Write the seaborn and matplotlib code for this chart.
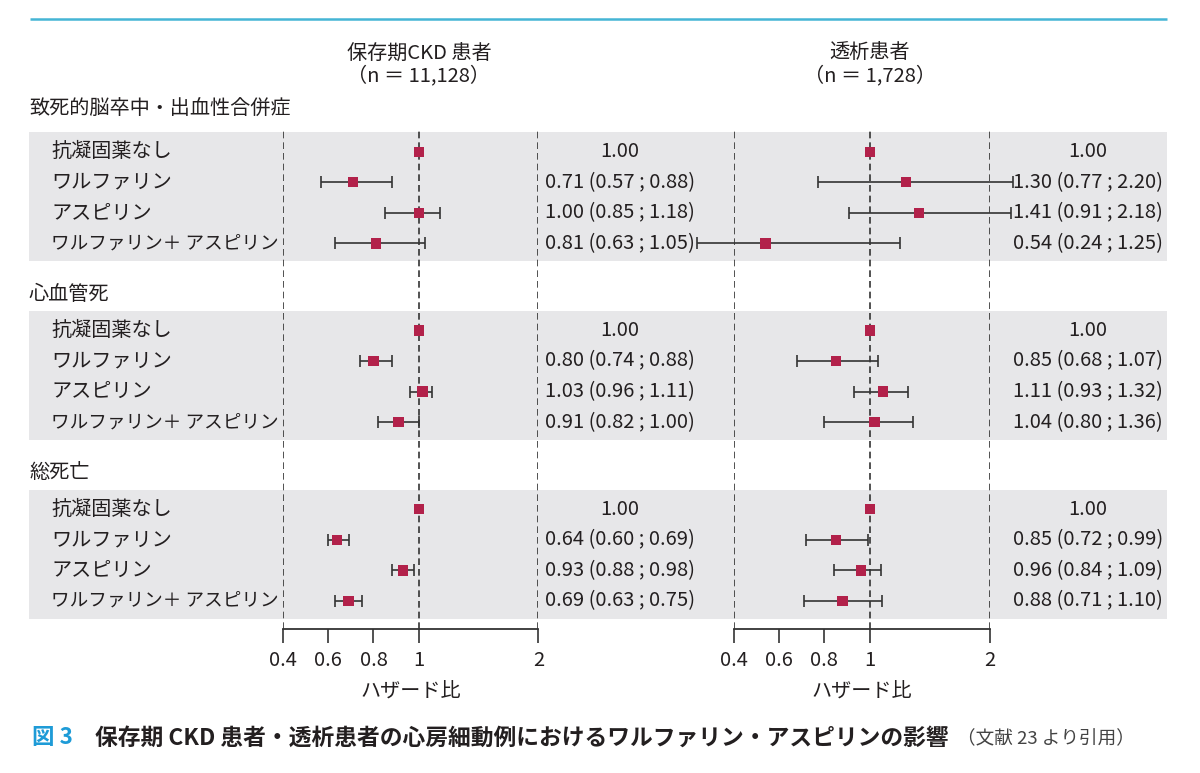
import numpy as np
import pandas as pd
import matplotlib
matplotlib.use('Agg')
import matplotlib.pyplot as plt
import matplotlib.transforms as mtrans
from matplotlib.patches import Rectangle
import seaborn as sns

# ---------------- data ----------------
groups = ['致死的脳卒中・出血性合併症', '心血管死', '総死亡']
treatments = ['抗凝固薬なし', 'ワルファリン', 'アスピリン', 'ワルファリン＋ アスピリン']

ckd_hr = [1.00, 0.71, 1.00, 0.81, 1.00, 0.80, 1.03, 0.91, 1.00, 0.64, 0.93, 0.69]
ckd_lo = [np.nan, 0.57, 0.85, 0.63, np.nan, 0.74, 0.96, 0.82, np.nan, 0.60, 0.88, 0.63]
ckd_hi = [np.nan, 0.88, 1.18, 1.05, np.nan, 0.88, 1.11, 1.00, np.nan, 0.69, 0.98, 0.75]

hd_hr = [1.00, 1.30, 1.41, 0.54, 1.00, 0.85, 1.11, 1.04, 1.00, 0.85, 0.96, 0.88]
hd_lo = [np.nan, 0.77, 0.91, 0.24, np.nan, 0.68, 0.93, 0.80, np.nan, 0.72, 0.84, 0.71]
hd_hi = [np.nan, 2.20, 2.18, 1.25, np.nan, 1.07, 1.32, 1.36, np.nan, 0.99, 1.09, 1.10]

panel_names = ['保存期CKD 患者', '透析患者']
panel_n = ['（n ＝ 11,128）', '（n ＝ 1,728）']
xticks = [0.4, 0.6, 0.8, 1, 2]
xticklabels = ['0.4', '0.6', '0.8', '1', '2']
xlabel = 'ハザード比'
caption_fig = '図 3'
caption_main = '保存期 CKD 患者・透析患者の心房細動例におけるワルファリン・アスピリンの影響'
caption_src = '（文献 23 より引用）'

# ---------------- style ----------------
sns.set_theme(style='white')
plt.rcParams['font.family'] = ['Noto Sans CJK JP', 'DejaVu Sans']

W, H = 1200, 773
FS = 14.5
TXT = '#231f20'
LINE = '#333333'
MARK = '#b2214a'
GRAY = '#e7e7e9'

fig = plt.figure(figsize=(W / 100, H / 100), dpi=100)
fig.patch.set_facecolor('white')

bg = fig.add_axes([0, 0, 1, 1], zorder=0)
bg.set_xlim(0, W)
bg.set_ylim(H, 0)
bg.axis('off')

# layout (pixels)
ROW0, PITCH, GSTEP = 151.7, 30.6, 5.84
AX_TOP, AX_BOT = 131, 629
panel_x = [(282.7, 538.3), (733.5, 989.5)]
value_x = [620, 1088]
header_off = [1.38, 1.18, 1.2]


def fwd(x):
    x = np.asarray(x, dtype=float)
    return np.where(x < 1, (x - 1) * 1.9, x - 1)


def inv(y):
    y = np.asarray(y, dtype=float)
    return np.where(y < 0, y / 1.9 + 1, y + 1)


rows = []
for g, gname in enumerate(groups):
    for r, t in enumerate(treatments):
        rows.append(dict(group=gname, gi=g, ri=r, treatment=t, y=g * GSTEP + r))
base = pd.DataFrame(rows)
panels = []
for hr, lo, hi in [(ckd_hr, ckd_lo, ckd_hi), (hd_hr, hd_lo, hd_hi)]:
    d = base.copy()
    d['hr'], d['lo'], d['hi'] = hr, lo, hi
    panels.append(d)

ylim_top = (AX_TOP - ROW0) / PITCH
ylim_bot = (AX_BOT - ROW0) / PITCH

axes = []
for p, (x0, x1) in enumerate(panel_x):
    ax = fig.add_axes([x0 / W, 1 - AX_BOT / H, (x1 - x0) / W, (AX_BOT - AX_TOP) / H], zorder=2)
    ax.set_facecolor('none')
    ax.set_xscale('function', functions=(fwd, inv))
    axes.append(ax)

ax0 = axes[0]
rowtrans = mtrans.blended_transform_factory(bg.transData, ax0.transData)

# gray bands, group headers, row labels
for g, gname in enumerate(groups):
    top = g * GSTEP - 0.64
    bot = g * GSTEP + 3.58
    bg.add_patch(Rectangle((29, top), 1167 - 29, bot - top, transform=rowtrans,
                           facecolor=GRAY, edgecolor='none', zorder=0))
    bg.text(29, g * GSTEP - header_off[g], gname, transform=rowtrans, fontsize=FS,
            color=TXT, ha='left', va='center')
for _, row in base.iterrows():
    fs = FS if row['ri'] < 3 else 13.4
    bg.text(51, row['y'], row['treatment'], transform=rowtrans, fontsize=fs,
            color=TXT, ha='left', va='center')

# top rule
bg.plot([30, 1167], [18.5, 18.5], color='#45b5d5', lw=1.8, solid_capstyle='butt')

for p, ax in enumerate(axes):
    d = panels[p]
    for xv in [0.4, 1, 2]:
        ax.axvline(xv, color=LINE, lw=1.2, ls=(0, (4.0, 2.4)), zorder=1)
    ci = d.dropna(subset=['lo', 'hi'])
    cont = ax.errorbar(ci['hr'], ci['y'], xerr=[ci['hr'] - ci['lo'], ci['hi'] - ci['hr']],
                       fmt='none', ecolor=LINE, elinewidth=1.2, capsize=4.0,
                       capthick=1.2, zorder=3)
    for a in cont.get_children():
        a.set_clip_on(False)
    sns.scatterplot(data=d, x='hr', y='y', marker='s', s=56, color=MARK,
                    edgecolor='none', linewidth=0, ax=ax, zorder=4, legend=False,
                    clip_on=False)
    ax.set_xlim(0.4, 2)
    ax.set_ylim(ylim_bot, ylim_top)
    ax.set_xlabel('')
    ax.set_ylabel('')
    ax.set_yticks([])
    for s in ['top', 'left', 'right']:
        ax.spines[s].set_visible(False)
    ax.spines['bottom'].set_bounds(0.4, 2)
    ax.spines['bottom'].set_color(LINE)
    ax.spines['bottom'].set_linewidth(1.3)
    ax.set_xticks(xticks)
    ax.set_xticklabels(xticklabels)
    ax.minorticks_off()
    ax.tick_params(axis='x', direction='out', length=10, width=1.2, color=LINE,
                   labelsize=FS, labelcolor=TXT, pad=5, bottom=True)

    # values
    vt = mtrans.blended_transform_factory(bg.transData, ax.transData)
    for _, row in d.iterrows():
        if np.isnan(row['lo']):
            s = f"{row['hr']:.2f}"
        else:
            s = f"{row['hr']:.2f} ({row['lo']:.2f} ; {row['hi']:.2f})"
        ax.text(value_x[p], row['y'], s, transform=vt, fontsize=FS, color=TXT,
                ha='center', va='center', zorder=5)

    # panel headers and x label
    ht = mtrans.blended_transform_factory(ax.transData, bg.transData)
    ax.text(1, 53, panel_names[p], transform=ht, fontsize=FS, color=TXT,
            ha='center', va='center')
    ax.text(1, 76, panel_n[p], transform=ht, fontsize=FS, color=TXT,
            ha='center', va='center')
    lt = mtrans.blended_transform_factory(ax.transAxes, bg.transData)
    ax.text(0.5, 692, xlabel, transform=lt, fontsize=FS, color=TXT,
            ha='center', va='center')

# caption
bg.text(32, 738, caption_fig, color='#1e9bd7', fontsize=16.2, fontweight='bold',
        ha='left', va='center')
t2 = bg.text(95, 738, caption_main, color=TXT, fontsize=16.4, fontweight='bold',
             ha='left', va='center')
fig.canvas.draw()
bb = t2.get_window_extent()
xr = bg.transData.inverted().transform([[bb.x1, bb.y0]])[0][0]
bg.text(xr + 8, 739, caption_src, color='#444444', fontsize=13.4,
        ha='left', va='center')

fig.savefig('out.png', dpi=100, facecolor='white')
